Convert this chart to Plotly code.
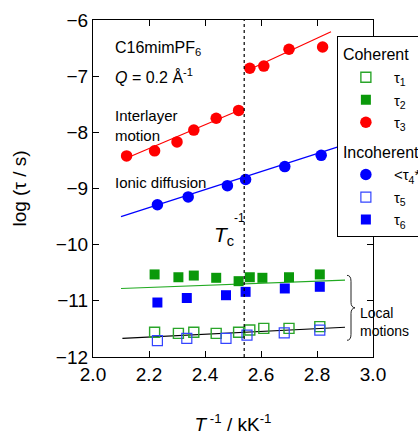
import plotly.graph_objects as go

# Inverse temperature (1/kK) and log10 relaxation times (s)
x_tau3 = [2.12, 2.22, 2.30, 2.36, 2.44, 2.52, 2.56, 2.61, 2.70, 2.82]
y_tau3 = [-8.42, -8.33, -8.17, -7.96, -7.75, -7.61, -6.86, -6.82, -6.52, -6.48]

x_tau4 = [2.23, 2.34, 2.48, 2.545, 2.685, 2.815]
y_tau4 = [-9.29, -9.15, -8.95, -8.84, -8.61, -8.41]

x_tau2 = [2.22, 2.305, 2.36, 2.44, 2.52, 2.56, 2.605, 2.70, 2.81]
y_tau2 = [-10.53, -10.58, -10.55, -10.59, -10.65, -10.58, -10.59, -10.58, -10.53]

x_tau6 = [2.23, 2.335, 2.475, 2.545, 2.685, 2.81]
y_tau6 = [-11.03, -10.95, -10.90, -10.84, -10.78, -10.75]

x_tau1 = [2.22, 2.305, 2.36, 2.44, 2.52, 2.56, 2.61, 2.70, 2.81]
y_tau1 = [-11.56, -11.58, -11.56, -11.58, -11.56, -11.52, -11.49, -11.49, -11.46]

x_tau5 = [2.23, 2.335, 2.475, 2.55, 2.683, 2.81]
y_tau5 = [-11.71, -11.67, -11.67, -11.61, -11.57, -11.52]

# Linear fits, given by their end points
fit_red_low_x = [2.11, 2.535]
fit_red_low_y = [-8.48, -7.58]
fit_red_high_x = [2.555, 2.85]
fit_red_high_y = [-6.89, -6.21]
fit_blue_x = [2.10, 2.90]
fit_blue_y = [-9.50, -8.22]
fit_green_x = [2.10, 2.90]
fit_green_y = [-10.78, -10.63]
fit_black_x = [2.105, 2.90]
fit_black_y = [-11.67, -11.47]

T_c_inv = 2.54

RED = "#ff0000"
BLUE = "#0000ff"
GREEN = "#0a990a"
GREEN_OPEN = "#2aa52a"
FONT = "Liberation Sans, Arial, sans-serif"

fig = go.Figure()

# fit lines (not in legend)
for fx, fy, col in [
    (fit_red_low_x, fit_red_low_y, RED),
    (fit_red_high_x, fit_red_high_y, RED),
    (fit_blue_x, fit_blue_y, BLUE),
    (fit_green_x, fit_green_y, "#22aa22"),
    (fit_black_x, fit_black_y, "#000000"),
]:
    fig.add_trace(go.Scatter(x=fx, y=fy, mode="lines", line=dict(color=col, width=1.2),
                             showlegend=False, hoverinfo="skip"))

sq = 10
circ = 11.5
fig.add_trace(go.Scatter(
    x=x_tau1, y=y_tau1, mode="markers", name="τ<sub>1</sub>",
    legendgroup="coh", legendgrouptitle=dict(text="Coherent"),
    marker=dict(symbol="square-open", size=sq, color=GREEN_OPEN, line=dict(width=1.4))))
fig.add_trace(go.Scatter(
    x=x_tau2, y=y_tau2, mode="markers", name="τ<sub>2</sub>", legendgroup="coh",
    marker=dict(symbol="square", size=sq, color=GREEN)))
fig.add_trace(go.Scatter(
    x=x_tau3, y=y_tau3, mode="markers", name="τ<sub>3</sub>", legendgroup="coh",
    marker=dict(symbol="circle", size=circ, color=RED)))
fig.add_trace(go.Scatter(
    x=x_tau4, y=y_tau4, mode="markers", name="&lt;τ<sub>4</sub>*&gt;",
    legendgroup="inc", legendgrouptitle=dict(text="Incoherent"),
    marker=dict(symbol="circle", size=circ, color=BLUE)))
fig.add_trace(go.Scatter(
    x=x_tau5, y=y_tau5, mode="markers", name="τ<sub>5</sub>", legendgroup="inc",
    marker=dict(symbol="square-open", size=sq, color="#3344ff", line=dict(width=1.2))))
fig.add_trace(go.Scatter(
    x=x_tau6, y=y_tau6, mode="markers", name="τ<sub>6</sub>", legendgroup="inc",
    marker=dict(symbol="square", size=sq, color=BLUE)))

# transition temperature
fig.add_shape(type="line", x0=T_c_inv, x1=T_c_inv, y0=0, y1=1, xref="x", yref="paper",
              line=dict(color="black", width=1.2, dash="3px,3px"))

ann = [
    dict(x=2.07, y=-6.5, text="C16mimPF<sub>6</sub>", size=16),
    dict(x=2.07, y=-7.0, text="<i>Q</i> = 0.2 Å<sup>-1</sup>", size=16),
    dict(x=2.07, y=-7.88, text="Interlayer<br>motion", size=15),
    dict(x=2.07, y=-8.9, text="Ionic diffusion", size=15),
    dict(x=2.425, y=-9.85, text="<i>T</i><sub>c</sub>", size=21),
    dict(x=2.495, y=-9.53, text="-1", size=12),
]
for a in ann:
    fig.add_annotation(x=a["x"], y=a["y"], text=a["text"], xref="x", yref="y",
                       xanchor="left", yanchor="middle", align="left", showarrow=False,
                       font=dict(family=FONT, size=a["size"], color="black"))

# thin curly brace grouping the local motions
def px_x(p):
    return 2.0 + (p - 93) / 280.0

def px_y(p):
    return -6.0 - (p - 20.5) / 56.2

brace = (
    f"M {px_x(347)},{px_y(276)} Q {px_x(351)},{px_y(276)} {px_x(351)},{px_y(282)} "
    f"L {px_x(351)},{px_y(303)} Q {px_x(351)},{px_y(308)} {px_x(355)},{px_y(308.5)} "
    f"Q {px_x(351)},{px_y(309)} {px_x(351)},{px_y(314)} "
    f"L {px_x(351)},{px_y(335)} Q {px_x(351)},{px_y(341)} {px_x(347)},{px_y(341)}"
)
fig.add_shape(type="path", path=brace, xref="x", yref="y",
              line=dict(color="#222222", width=1))
fig.add_annotation(x=2.945, y=-11.37, text="Local<br>motions", xref="x", yref="y",
                   showarrow=False, xanchor="left", yanchor="middle", align="left",
                   font=dict(family=FONT, size=14, color="black"))

axis_common = dict(showline=True, linecolor="black", linewidth=1.2, mirror="ticks",
                   ticks="inside", ticklen=6, tickcolor="black", showgrid=False,
                   zeroline=False, tickfont=dict(family=FONT, size=19, color="black"))

fig.update_xaxes(range=[2.0, 3.0], dtick=0.2, tick0=2.0, tickformat=".1f",
                 title=dict(text="<i>T</i><sup> -1</sup> / kK<sup>-1</sup>",
                            font=dict(family=FONT, size=19, color="black"), standoff=36),
                 **axis_common)
fig.update_yaxes(range=[-12, -6], dtick=1,
                 title=dict(text="log (τ / s)", font=dict(family=FONT, size=19, color="black"),
                            standoff=24),
                 **axis_common)

fig.update_layout(
    width=418, height=435,
    margin=dict(l=93, r=45, t=20, b=78, autoexpand=False),
    plot_bgcolor="white", paper_bgcolor="white",
    font=dict(family=FONT, color="black"),
    legend=dict(x=0.871, y=0.952, xanchor="left", yanchor="top",
                bordercolor="black", borderwidth=1, bgcolor="white",
                font=dict(family=FONT, size=15, color="black"),
                grouptitlefont=dict(family=FONT, size=16, color="black"),
                tracegroupgap=6, itemwidth=46),
)

fig.write_html("out.html")
